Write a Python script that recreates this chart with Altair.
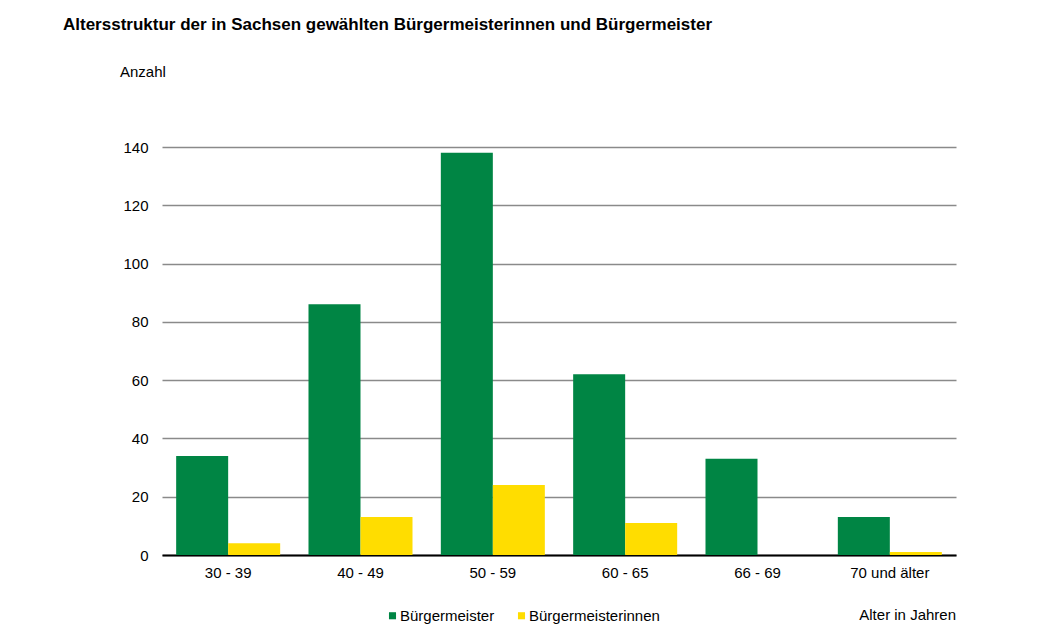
import altair as alt
import pandas as pd

categories = ["30 - 39", "40 - 49", "50 - 59", "60 - 65", "66 - 69", "70 und älter"]
series_names = ["Bürgermeister", "Bürgermeisterinnen"]
buergermeister = [34, 86, 138, 62, 33, 13]
buergermeisterinnen = [4, 13, 24, 11, 0, 1]
y_ticks = [0, 20, 40, 60, 80, 100, 120, 140]

rows = []
for c, v in zip(categories, buergermeister):
    rows.append({"Alter": c, "Gruppe": series_names[0], "Anzahl": v})
for c, v in zip(categories, buergermeisterinnen):
    rows.append({"Alter": c, "Gruppe": series_names[1], "Anzahl": v})
df = pd.DataFrame(rows)

FONT = "Liberation Sans"
FS = 15

bars = alt.Chart(df).mark_bar().encode(
    x=alt.X("Alter:N", sort=categories,
            scale=alt.Scale(paddingInner=0.214, paddingOuter=0.107),
            axis=alt.Axis(title=None, labelAngle=0, domainColor="#000000", domainWidth=2,
                          ticks=False, labelPadding=10, labelFontSize=FS, labelColor="#000000",
                          labelFont=FONT, grid=False)),
    xOffset=alt.XOffset("Gruppe:N", sort=series_names),
    y=alt.Y("Anzahl:Q", scale=alt.Scale(domain=[0, 140], nice=False),
            axis=alt.Axis(title=None, values=y_ticks, domain=False, ticks=False, labelPadding=14,
                          labelFontSize=FS, labelColor="#000000", labelFont=FONT,
                          gridColor="#8a8a8a", gridWidth=1.5)),
    color=alt.Color("Gruppe:N", sort=series_names,
                    scale=alt.Scale(domain=series_names, range=["#008544", "#ffdd00"]),
                    legend=alt.Legend(title=None, orient="none", direction="horizontal",
                                      legendX=223, legendY=461, symbolType="square", symbolSize=50,
                                      labelFontSize=FS, labelFont=FONT, labelColor="#000000",
                                      columnPadding=19, labelOffset=0)),
)

title_txt = alt.Chart(pd.DataFrame({"t": ["Altersstruktur der in Sachsen gewählten Bürgermeisterinnen und Bürgermeister"]})).mark_text(
    align="left", baseline="middle", fontSize=17, fontWeight="bold", font=FONT, color="#000000"
).encode(x=alt.value(-99), y=alt.value(-122), text="t:N")

anzahl_txt = alt.Chart(pd.DataFrame({"t": ["Anzahl"]})).mark_text(
    align="left", baseline="middle", fontSize=FS, font=FONT, color="#000000"
).encode(x=alt.value(-42), y=alt.value(-75), text="t:N")

alter_txt = alt.Chart(pd.DataFrame({"t": ["Alter in Jahren"]})).mark_text(
    align="right", baseline="middle", fontSize=FS, font=FONT, color="#000000"
).encode(x=alt.value(794), y=alt.value(468), text="t:N")

chart = alt.layer(bars, title_txt, anzahl_txt, alter_txt).properties(
    width=794, height=408,
    autosize=alt.AutoSizeParams(type="none"),
    padding={"left": 154, "top": 139, "right": 70, "bottom": 70},
    background="#ffffff",
).configure_view(stroke=None)

chart.save("out.html", embed_options={"renderer": "svg", "actions": False})
